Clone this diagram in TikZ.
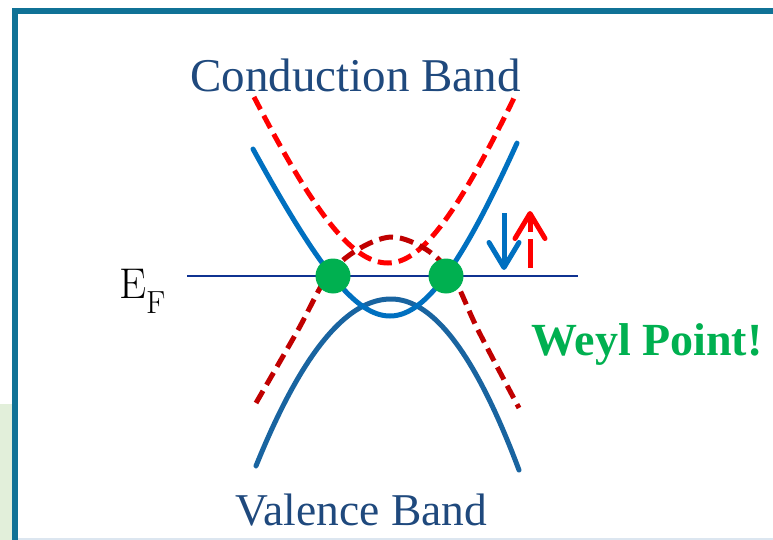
\documentclass[tikz,border=0pt]{standalone}
\usepackage{fontspec}
\newfontfamily\labelfont{Liberation Serif}
\usetikzlibrary{arrows.meta}
\definecolor{framecol}{RGB}{16,114,150}
\definecolor{sidegreen}{RGB}{226,239,218}
\definecolor{bottomgray}{RGB}{220,230,240}
\definecolor{navytext}{RGB}{31,73,125}
\definecolor{cbblue}{RGB}{0,112,192}
\definecolor{vbblue}{RGB}{25,100,160}
\definecolor{brightred}{RGB}{255,0,0}
\definecolor{darkred}{RGB}{192,0,0}
\definecolor{weylgreen}{RGB}{0,176,80}
\definecolor{efline}{RGB}{15,50,145}
\tikzset{
  band/.style={line width=5pt, line cap=round, line join=round},
  dashband/.style={band, line cap=butt, dash pattern=on 14pt off 7pt},
  bandlabel/.style={anchor=base, inner sep=0pt, text=navytext},
  weyldot/.style={circle, fill=weylgreen, minimum size=35pt, inner sep=0pt},
  spinarrow/.style={line width=5pt, -{Straight Barb[length=25pt, width=30pt, line width=5pt, round]}},
}
\begin{document}
\begin{tikzpicture}[x=1pt,y=-1pt]
\useasboundingbox (0,0) rectangle (773,540);
% page decorations
\fill[sidegreen] (0,404) rectangle (12,540);
\fill[bottomgray] (12,537.5) rectangle (773,540);
\draw[framecol, line width=6pt] (15,540) -- (15,11) -- (773,11);

% Fermi level
\coordinate (efL) at (187,276);
\coordinate (efR) at (578,276);
\draw[efline, line width=2pt] (efL) -- (efR);

% conduction band, spin up (red dashed)
\draw[dashband, brightred]
  plot[domain=254:388, samples=60] (\x, {263 - 10*(sqrt(21.2^2 + 5.455*((\x-388)/10)^2) - 21.2)})
  -- plot[domain=388:515, samples=60] (\x, {263 - 10*(sqrt(21.2^2 + 6.12*((\x-388)/10)^2) - 21.2)});
% valence band, spin up (dark red dashed)
\draw[dashband, darkred] plot[smooth, tension=0.55] coordinates
  {(256,403) (298,330) (327,277) (357,250) (392,237) (427,250) (453,277) (478,330) (519,408)};
% valence band (blue)
\draw[band, vbblue]
  plot[domain=256:391, samples=60] (\x, {299 + 0.916*((\x-391)/10)^2})
  -- plot[domain=391:519, samples=60] (\x, {299 + 1.044*((\x-391)/10)^2});
% conduction band (blue)
\draw[band, cbblue]
  plot[domain=253:390, samples=60] (\x, {316 - 10*(sqrt(16.38^2 + 4.4*((\x-390)/10)^2) - 16.38)})
  -- plot[domain=390:517, samples=60] (\x, {316 - 10*(sqrt(28.1^2 + 7.88*((\x-390)/10)^2) - 28.1)});

% Weyl points
\node[weyldot] (w1) at (333,276) {};
\node[weyldot] (w2) at (446,276) {};

% spin arrows
\coordinate (bdTop) at (504,213);
\coordinate (bdTip) at (504,270);
\draw[spinarrow, cbblue] (bdTop) -- (bdTip);
\coordinate (ruBot) at (530,268);
\coordinate (ruTip) at (530,211);
\draw[spinarrow, brightred, dash pattern=on 29pt off 7pt on 40pt] (ruBot) -- (ruTip);

% labels
\node[bandlabel, font=\labelfont\fontsize{47}{48}\selectfont] (cb) at (355.5,92) {Conduction Band};
\node[bandlabel, font=\labelfont\fontsize{45.5}{46}\selectfont] (vb) at (361.5,525) {Valence Band};
\node[anchor=base, inner sep=0pt, text=weylgreen, font=\labelfont\bfseries\fontsize{46}{47}\selectfont] (wp) at (647,355) {Weyl Point!};
\node[anchor=base west, inner sep=0pt, font=\fontsize{43}{44}\selectfont] (ef) at (119,298) {E\raisebox{-15pt}{\fontsize{32}{32}\selectfont F}};
\end{tikzpicture}
\end{document}
